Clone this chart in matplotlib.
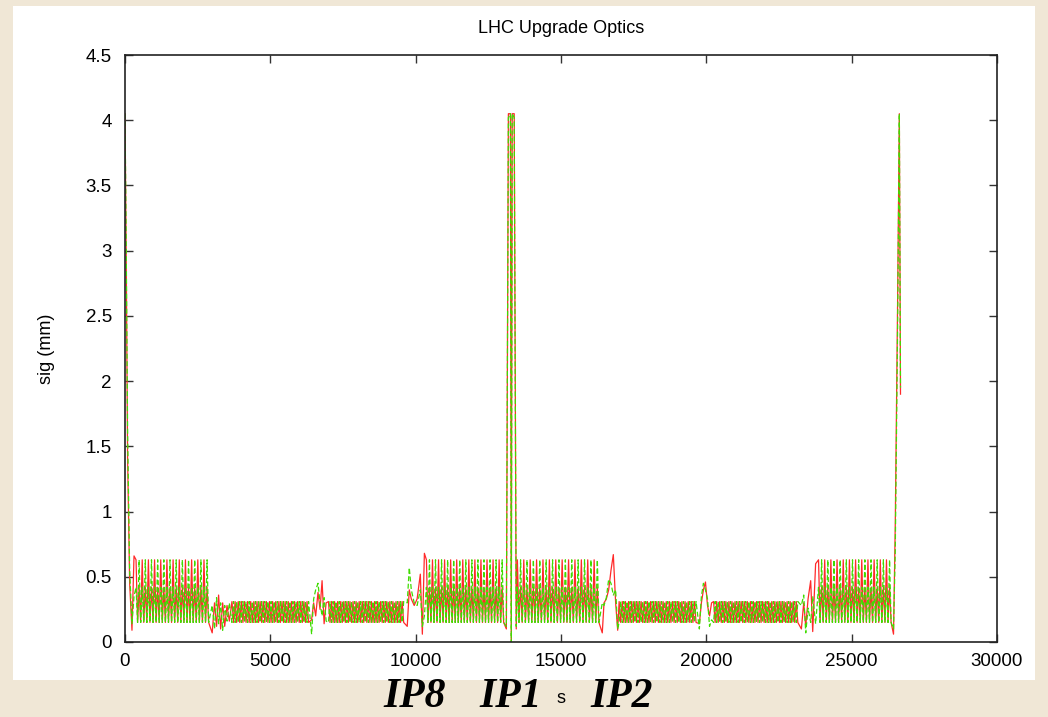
import numpy as np
import matplotlib.pyplot as plt
from matplotlib.patches import Rectangle

# regular arc cells (s in m, sig in mm)
arc_start = [380, 10370, 13500, 23860]
arc_end = [2930, 13080, 16360, 26410]
arc_cell = 213
arc_red = [0.63, 0.15, 0.42, 0.15]
arc_green = [0.42, 0.15, 0.63, 0.15]

# low dense sections
band_start = [3680, 7000, 17000, 20250]
band_end = [6370, 9640, 19700, 23200]
band_cell = 107
band_red = [0.31, 0.15]
band_green = [0.15, 0.31]

# insertion regions
ir0_s = [0, 40, 90, 160, 240, 310]
ir0_red = [4.05, 3.0, 1.4, 0.45, 0.09, 0.66]
ir0_green = [4.05, 3.1, 1.6, 0.55, 0.14, 0.35]

tr1_s = [3000, 3080, 3150, 3220, 3290, 3360, 3430, 3510, 3590]
tr1_red = [0.07, 0.30, 0.12, 0.36, 0.10, 0.30, 0.12, 0.28, 0.16]
tr1_green = [0.28, 0.10, 0.34, 0.14, 0.30, 0.09, 0.28, 0.16, 0.30]

bump1_s = [6420, 6490, 6560, 6640, 6710, 6780, 6850, 6920]
bump1_red = [0.17, 0.30, 0.20, 0.38, 0.25, 0.47, 0.14, 0.30]
bump1_green = [0.06, 0.33, 0.40, 0.45, 0.30, 0.20, 0.34, 0.16]

ir8_s = [9710, 9780, 9850, 9950, 10050, 10160, 10230, 10300]
ir8_red = [0.12, 0.40, 0.33, 0.28, 0.33, 0.52, 0.06, 0.68]
ir8_green = [0.30, 0.57, 0.40, 0.30, 0.28, 0.40, 0.12, 0.20]

ip1_s = [13120, 13190, 13260, 13290, 13320, 13390, 13460]
ip1_red = [0.10, 4.05, 4.05, 0.0, 4.05, 4.05, 0.10]
ip1_green = [0.12, 4.02, 4.05, 0.0, 4.05, 4.02, 0.12]

ir2_s = [16420, 16480, 16560, 16640, 16720, 16800, 16880, 16950]
ir2_red = [0.07, 0.30, 0.33, 0.40, 0.55, 0.67, 0.30, 0.09]
ir2_green = [0.30, 0.28, 0.34, 0.48, 0.45, 0.36, 0.40, 0.10]

bump2_s = [19760, 19830, 19900, 19970, 20040, 20110, 20180]
bump2_red = [0.14, 0.30, 0.40, 0.46, 0.28, 0.20, 0.30]
bump2_green = [0.10, 0.35, 0.45, 0.40, 0.33, 0.12, 0.17]

tr2_s = [23270, 23350, 23420, 23500, 23590, 23660, 23760]
tr2_red = [0.10, 0.30, 0.12, 0.33, 0.47, 0.08, 0.60]
tr2_green = [0.28, 0.36, 0.07, 0.26, 0.15, 0.35, 0.14]

irend_s = [26440, 26500, 26580, 26640, 26680]
irend_red = [0.06, 0.9, 2.6, 4.05, 1.9]
irend_green = [0.10, 0.7, 2.4, 4.05, 1.95]


def tile(a, b, cell, shape):
    # repeat one lattice cell over a section
    n = max(1, round((b - a) / cell))
    s = np.linspace(a, b, n * len(shape), endpoint=False)
    return s, np.tile(shape, n)


def build(which):
    arc = arc_red if which == "red" else arc_green
    band = band_red if which == "red" else band_green
    ins = {
        "red": [ir0_red, tr1_red, bump1_red, ir8_red, ip1_red, ir2_red,
                bump2_red, tr2_red, irend_red],
        "green": [ir0_green, tr1_green, bump1_green, ir8_green, ip1_green,
                  ir2_green, bump2_green, tr2_green, irend_green],
    }[which]
    ins_s = [ir0_s, tr1_s, bump1_s, ir8_s, ip1_s, ir2_s, bump2_s, tr2_s, irend_s]

    parts = [(np.array(s), np.array(v)) for s, v in zip(ins_s, ins)]
    for a, b in zip(arc_start, arc_end):
        parts.append(tile(a, b, arc_cell, arc))
    for a, b in zip(band_start, band_end):
        parts.append(tile(a, b, band_cell, band))
    parts.sort(key=lambda p: p[0][0])
    s = np.concatenate([p[0] for p in parts])
    v = np.concatenate([p[1] for p in parts])
    return s, v


s_red, sig_red = build("red")
s_green, sig_green = build("green")

plt.rcParams['font.family'] = ['Liberation Sans', 'DejaVu Sans']

fig = plt.figure(figsize=(10.48, 7.17), dpi=100, facecolor='#F0E7D6')
# white slide panel behind the plot
fig.patches.append(Rectangle((13 / 1048, 37 / 717), 1022 / 1048, 674 / 717,
                             transform=fig.transFigure, facecolor='white',
                             edgecolor='none', zorder=-5))

ax = fig.add_axes([125 / 1048, 75 / 717, 872 / 1048, 587 / 717])
ax.set_facecolor('white')
ax.set_zorder(2)

ax.plot(s_red, sig_red, color='#ff2a2a', linewidth=0.9)
ax.plot(s_green, sig_green, color='#3fdc00', linewidth=0.9, linestyle=(0, (4, 2)))

ax.set_xlim(0, 30000)
ax.set_ylim(0, 4.5)
ax.set_xticks(np.arange(0, 30001, 5000))
ax.set_yticks(np.arange(0, 4.51, 0.5))
ax.set_yticklabels(['0', '0.5', '1', '1.5', '2', '2.5', '3', '3.5', '4', '4.5'])

ax.tick_params(direction='in', length=6, width=1, color='#333333',
               top=True, right=True, labelsize=13.5)
ax.tick_params(axis='x', pad=8)
ax.tick_params(axis='y', pad=9.5)
for sp in ax.spines.values():
    sp.set_linewidth(1.2)
    sp.set_color('#222222')

ax.set_title('LHC Upgrade Optics', fontsize=13, pad=16)
ax.set_ylabel('sig (mm)', fontsize=13)
ax.yaxis.set_label_coords(-0.080, 0.5)
ax.set_xlabel('s', fontsize=13)
ax.xaxis.set_label_coords(0.5, -0.082)

for label, xp in [('IP8', 415), ('IP1', 511), ('IP2', 622)]:
    fig.text(xp / 1048, 10 / 717, label, fontsize=30, family='Liberation Serif',
             fontweight='bold', fontstyle='italic', ha='center', va='baseline',
             zorder=3)

fig.savefig('out.png', dpi=100, facecolor=fig.get_facecolor())
